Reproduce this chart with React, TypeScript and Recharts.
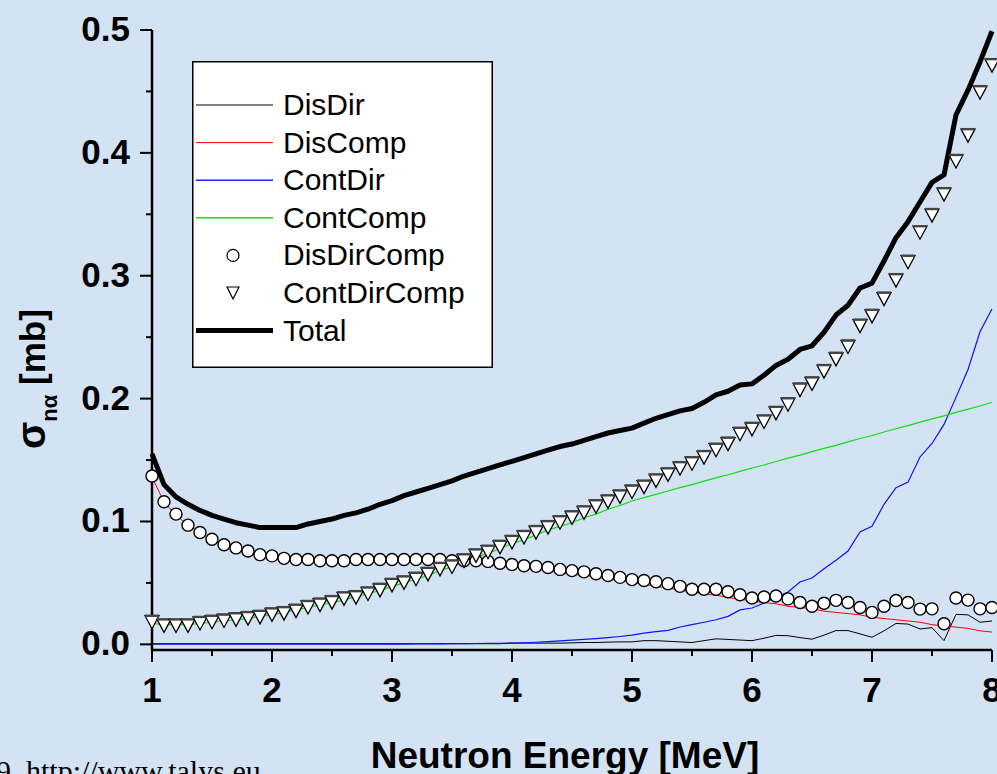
import { LineChart, Line, XAxis, YAxis, Legend } from "recharts";

const energy = [
  1.0, 1.1, 1.2, 1.3, 1.4, 1.5, 1.6, 1.7, 1.8, 1.9,
  2.0, 2.1, 2.2, 2.3, 2.4, 2.5, 2.6, 2.7, 2.8, 2.9,
  3.0, 3.1, 3.2, 3.3, 3.4, 3.5, 3.6, 3.7, 3.8, 3.9,
  4.0, 4.1, 4.2, 4.3, 4.4, 4.5, 4.6, 4.7, 4.8, 4.9,
  5.0, 5.1, 5.2, 5.3, 5.4, 5.5, 5.6, 5.7, 5.8, 5.9,
  6.0, 6.1, 6.2, 6.3, 6.4, 6.5, 6.6, 6.7, 6.8, 6.9,
  7.0, 7.1, 7.2, 7.3, 7.4, 7.5, 7.6, 7.7, 7.8, 7.9,
  8.0,
];

const disDir = [
  0.0005, 0.0005, 0.0005, 0.0005, 0.0005, 0.0005, 0.0005, 0.0005, 0.0005, 0.0005,
  0.0005, 0.0005, 0.0005, 0.0005, 0.0005, 0.0005, 0.0005, 0.0005, 0.0005, 0.0005,
  0.0005, 0.0005, 0.0005, 0.0005, 0.0005, 0.0005, 0.0005, 0.0005, 0.0005, 0.0005,
  0.001, 0.001, 0.001, 0.001, 0.001, 0.0012, 0.0015, 0.0015, 0.0018, 0.002,
  0.002, 0.003, 0.003, 0.0025, 0.002, 0.0015, 0.003, 0.0045, 0.004, 0.0035,
  0.003, 0.005, 0.0073, 0.007, 0.0055, 0.0042, 0.0075, 0.0112, 0.0112, 0.0085,
  0.0058, 0.011, 0.017, 0.0165, 0.0125, 0.0136, 0.003, 0.0244, 0.024, 0.018,
  0.019,
];

const disComp = [
  0.136, 0.116, 0.105, 0.097, 0.091, 0.085, 0.081, 0.078, 0.075, 0.073,
  0.071, 0.07, 0.069, 0.068, 0.068, 0.068, 0.068, 0.068, 0.068, 0.068,
  0.068, 0.068, 0.068, 0.068, 0.0675, 0.067, 0.0665, 0.066, 0.065, 0.064,
  0.063, 0.062, 0.061, 0.06, 0.058, 0.057, 0.056, 0.055, 0.053, 0.052,
  0.05, 0.049, 0.047, 0.046, 0.044, 0.043, 0.041, 0.04, 0.038, 0.037,
  0.035, 0.034, 0.033, 0.031, 0.03, 0.029, 0.027, 0.026, 0.025, 0.024,
  0.022, 0.021, 0.02, 0.019, 0.018, 0.016, 0.015, 0.014, 0.013, 0.011,
  0.01,
];

const contDir = [
  0.0001, 0.0001, 0.0001, 0.0001, 0.0001, 0.0001, 0.0001, 0.0001, 0.0001, 0.0001,
  0.0001, 0.0001, 0.0001, 0.0001, 0.0001, 0.0001, 0.0001, 0.0001, 0.0001, 0.0001,
  0.0002, 0.0002, 0.0003, 0.0003, 0.0004, 0.0005, 0.0006, 0.0007, 0.0008, 0.0009,
  0.001, 0.0013, 0.0017, 0.0022, 0.0028, 0.0034, 0.004, 0.0047, 0.0055, 0.0064,
  0.0075, 0.0092, 0.0103, 0.0114, 0.0141, 0.016, 0.018, 0.02, 0.0228, 0.028,
  0.0296, 0.0336, 0.0385, 0.0426, 0.0508, 0.054, 0.0616, 0.0684, 0.076, 0.0915,
  0.096, 0.114, 0.1275, 0.132, 0.1525, 0.1635, 0.179, 0.201, 0.2237, 0.2544,
  0.273,
];

const contComp = [
  0.017, 0.016, 0.016, 0.016, 0.017, 0.018, 0.019, 0.02, 0.021, 0.023,
  0.024, 0.026, 0.028, 0.03, 0.032, 0.034, 0.036, 0.039, 0.041, 0.044,
  0.047, 0.05, 0.053, 0.056, 0.06, 0.063, 0.067, 0.071, 0.074, 0.078,
  0.082, 0.085, 0.089, 0.093, 0.096, 0.099, 0.103, 0.106, 0.11, 0.113,
  0.1167, 0.1194, 0.122, 0.1248, 0.1275, 0.13, 0.1328, 0.1355, 0.138, 0.1408,
  0.1435, 0.146, 0.1488, 0.1515, 0.154, 0.1568, 0.1595, 0.162, 0.1648, 0.1675,
  0.17, 0.1728, 0.1755, 0.178, 0.1808, 0.1835, 0.186, 0.1888, 0.1915, 0.194,
  0.197,
];

const disDirComp = [
  0.137, 0.116, 0.106, 0.097, 0.091, 0.0855, 0.081, 0.0785, 0.076, 0.073,
  0.072, 0.07, 0.069, 0.069, 0.068, 0.068, 0.068, 0.069, 0.069, 0.069,
  0.069, 0.069, 0.069, 0.069, 0.069, 0.068, 0.068, 0.068, 0.0675, 0.066,
  0.065, 0.064, 0.0635, 0.0625, 0.061, 0.06, 0.059, 0.0575, 0.056, 0.0545,
  0.0527, 0.052, 0.051, 0.0494, 0.0472, 0.0448, 0.0448, 0.0448, 0.0428, 0.0404,
  0.0377, 0.0385, 0.0393, 0.037, 0.034, 0.031, 0.0335, 0.0358, 0.034, 0.03,
  0.026, 0.031, 0.0357, 0.034, 0.0287, 0.0289, 0.0168, 0.0377, 0.036, 0.0289,
  0.03,
];

const contDirComp = [
  0.018, 0.015, 0.015, 0.015, 0.017, 0.018, 0.019, 0.02, 0.021, 0.022,
  0.024, 0.025, 0.027, 0.03, 0.032, 0.034, 0.037, 0.038, 0.041, 0.044,
  0.048, 0.05, 0.053, 0.057, 0.061, 0.063, 0.068, 0.072, 0.075, 0.079,
  0.083, 0.087, 0.091, 0.095, 0.099, 0.103, 0.107, 0.112, 0.116, 0.12,
  0.124, 0.128, 0.133, 0.138, 0.143, 0.147, 0.152, 0.158, 0.163, 0.171,
  0.175, 0.181, 0.188, 0.195, 0.207, 0.212, 0.222, 0.232, 0.242, 0.259,
  0.267, 0.281, 0.296, 0.311, 0.335, 0.349, 0.366, 0.393, 0.414, 0.449,
  0.471,
];

const total = [
  0.155, 0.13, 0.12, 0.114, 0.109, 0.105, 0.102, 0.099, 0.097, 0.095,
  0.095, 0.095, 0.095, 0.098, 0.1, 0.102, 0.105, 0.107, 0.11, 0.114,
  0.117, 0.121, 0.124, 0.127, 0.13, 0.133, 0.137, 0.14, 0.143, 0.146,
  0.149, 0.152, 0.155, 0.158, 0.161, 0.163, 0.166, 0.169, 0.172, 0.174,
  0.176, 0.18, 0.184, 0.187, 0.19, 0.192, 0.197, 0.203, 0.206, 0.211,
  0.212, 0.219, 0.227, 0.232, 0.24, 0.243, 0.254, 0.268, 0.276, 0.29,
  0.294, 0.312, 0.331, 0.344, 0.36, 0.376, 0.382, 0.431, 0.451, 0.474,
  0.499,
];

const xTicks = [1, 1.5, 2, 2.5, 3, 3.5, 4, 4.5, 5, 5.5, 6, 6.5, 7, 7.5, 8];
const yTicks = [0, 0.05, 0.1, 0.15, 0.2, 0.25, 0.3, 0.35, 0.4, 0.45, 0.5];

const rows = energy.map((e, i) => ({
  e,
  disDir: disDir[i],
  disComp: disComp[i],
  contDir: contDir[i],
  contComp: contComp[i],
  disDirComp: disDirComp[i],
  contDirComp: contDirComp[i],
  total: total[i],
}));

const FONT = "'Liberation Sans', Arial, sans-serif";
const BG = "#d3e3f4";

// legend rows, same order as the original
const legendItems = [
  { name: "DisDir", kind: "line", color: "#000000", width: 1 },
  { name: "DisComp", kind: "line", color: "#ff0000", width: 1 },
  { name: "ContDir", kind: "line", color: "#2020ff", width: 1.5 },
  { name: "ContComp", kind: "line", color: "#10e010", width: 1.5 },
  { name: "DisDirComp", kind: "circle", color: "#000000", width: 1.2 },
  { name: "ContDirComp", kind: "triangle", color: "#000000", width: 1.2 },
  { name: "Total", kind: "line", color: "#000000", width: 5 },
];

function XTick({ x, y, payload }: any) {
  const major = Number.isInteger(payload.value);
  return (
    <g>
      <line x1={x} x2={x} y1={y} y2={y + (major ? 12 : 6)} stroke="#000" strokeWidth={2} />
      {major && (
        <text x={x} y={y + 52} textAnchor="middle" fontFamily={FONT} fontWeight="bold" fontSize={35} fill="#000">
          {payload.value}
        </text>
      )}
    </g>
  );
}

function YTick({ x, y, payload }: any) {
  const v = payload.value;
  const major = Math.abs(v * 10 - Math.round(v * 10)) < 1e-6;
  return (
    <g>
      <line x1={x - (major ? 12 : 6)} x2={x} y1={y} y2={y} stroke="#000" strokeWidth={2} />
      {major && (
        <text x={x - 22} y={y + 11} textAnchor="end" fontFamily={FONT} fontWeight="bold" fontSize={35} fill="#000">
          {v.toFixed(1)}
        </text>
      )}
    </g>
  );
}

function CircleDot({ cx, cy, index }: any) {
  if (cx == null || cy == null) return <g key={index} />;
  return <circle key={index} cx={cx} cy={cy} r={6} fill="#fff" stroke="#000" strokeWidth={1.4} />;
}

function TriangleDot({ cx, cy, index }: any) {
  if (cx == null || cy == null) return <g key={index} />;
  const w = 7;
  const h = 6.5;
  return (
    <g key={index}>
      <path d={`M${cx - w},${cy - h} L${cx + w},${cy - h} L${cx},${cy + h} Z`} fill="#fff" stroke="#000" strokeWidth={1.3} />
      <line x1={cx - w} x2={cx + w} y1={cy - h} y2={cy - h} stroke="#444" strokeWidth={2.4} />
    </g>
  );
}

function LegendBox() {
  const rowY = (i: number) => 44 + i * 37.6;
  return (
    <svg width={301} height={307} style={{ display: "block" }}>
      <rect x={0.75} y={0.75} width={299.5} height={305.5} fill="#fff" stroke="#000" strokeWidth={1.5} />
      {legendItems.map((it, i) => {
        const y = rowY(i);
        let sym = null;
        if (it.kind === "line") {
          sym = <line x1={4} x2={81} y1={y} y2={y} stroke={it.color} strokeWidth={it.width} />;
        } else if (it.kind === "circle") {
          sym = <circle cx={41} cy={y} r={6} fill="#fff" stroke="#000" strokeWidth={it.width} />;
        } else {
          sym = <path d={`M${35},${y - 6} L${47},${y - 6} L${41},${y + 6} Z`} fill="#fff" stroke="#000" strokeWidth={it.width} />;
        }
        return (
          <g key={it.name}>
            {sym}
            <text x={91} y={y + 10} fontFamily={FONT} fontSize={30} fill="#000">
              {it.name}
            </text>
          </g>
        );
      })}
    </svg>
  );
}

export default function App() {
  return (
    <div style={{ position: "absolute", left: 0, top: 0, width: 997, height: 774, background: BG, overflow: "hidden" }}>
      <LineChart width={997} height={774} data={rows} margin={{ top: 30, right: 5, bottom: 0, left: 0 }}>
        <XAxis
          dataKey="e"
          type="number"
          domain={[1, 8]}
          ticks={xTicks}
          interval={0}
          height={124}
          tickSize={0}
          tickMargin={0}
          tickLine={false}
          tick={<XTick />}
          axisLine={{ stroke: "#000", strokeWidth: 2.5 }}
        />
        <YAxis
          type="number"
          domain={[-0.0046, 0.5]}
          ticks={yTicks}
          interval={0}
          width={152}
          tickSize={0}
          tickMargin={0}
          tickLine={false}
          tick={<YTick />}
          axisLine={{ stroke: "#000", strokeWidth: 2.5 }}
        />
        <Legend
          layout="vertical"
          align="center"
          verticalAlign="middle"
          content={() => <LegendBox />}
          wrapperStyle={{ position: "absolute", left: 192, top: 61, width: 301, height: 307 }}
        />
        <Line dataKey="disDir" name="DisDir" stroke="#000000" strokeWidth={1} dot={false} activeDot={false} isAnimationActive={false} />
        <Line dataKey="disComp" name="DisComp" stroke="#ff0000" strokeWidth={1} dot={false} activeDot={false} isAnimationActive={false} />
        <Line dataKey="contDir" name="ContDir" stroke="#1010ff" strokeWidth={1.2} dot={false} activeDot={false} isAnimationActive={false} />
        <Line dataKey="contComp" name="ContComp" stroke="#10e010" strokeWidth={1.2} dot={false} activeDot={false} isAnimationActive={false} />
        <Line dataKey="disDirComp" name="DisDirComp" stroke="none" dot={(p: any) => <CircleDot {...p} />} activeDot={false} isAnimationActive={false} />
        <Line dataKey="contDirComp" name="ContDirComp" stroke="none" dot={(p: any) => <TriangleDot {...p} />} activeDot={false} isAnimationActive={false} />
        <Line dataKey="total" name="Total" stroke="#000000" strokeWidth={5} strokeLinejoin="round" dot={false} activeDot={false} isAnimationActive={false} />
      </LineChart>
      <svg width={997} height={774} style={{ position: "absolute", left: 0, top: 0, pointerEvents: "none" }}>
        <text transform="translate(45,449) rotate(-90)" fontFamily={FONT} fontWeight="bold" fontSize={35} fill="#000">
          <tspan fontSize={40}>σ</tspan>
          <tspan fontSize={22} dy={12}>nα</tspan>
          <tspan dy={-12}> [mb]</tspan>
        </text>
        <text x={565} y={768} textAnchor="middle" fontFamily={FONT} fontWeight="bold" fontSize={37} fill="#000">
          Neutron Energy [MeV]
        </text>
        <text x={-4} y={781} fontFamily="'Liberation Serif', 'Times New Roman', serif" fontSize={30} fill="#000">
          9.  http://www.talys.eu
        </text>
      </svg>
    </div>
  );
}
